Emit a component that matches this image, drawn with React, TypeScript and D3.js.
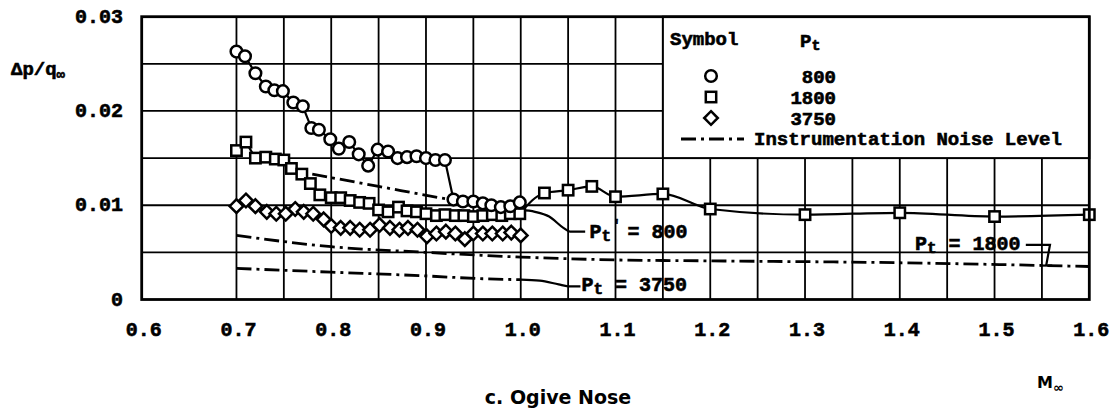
import React from 'react';
import * as d3 from 'd3';

const W = 1115;
const H = 411;

// axis ticks
const machTicks = [0.6, 0.7, 0.8, 0.9, 1.0, 1.1, 1.2, 1.3, 1.4, 1.5, 1.6];
const machTickLabels = ['0.6', '0.7', '0.8', '0.9', '1.0', '1.1', '1.2', '1.3', '1.4', '1.5', '1.6'];
const dpTicks = [0, 0.01, 0.02, 0.03];
const dpTickLabels = ['0', '0.01', '0.02', '0.03'];
const gridMach = [0.7, 0.75, 0.8, 0.85, 0.9, 0.95, 1.0, 1.05, 1.1, 1.15, 1.2, 1.25, 1.3, 1.35, 1.4, 1.45, 1.5, 1.55];
const gridDp = [0.005, 0.01, 0.015, 0.02, 0.025];

// Pt = 800 (circles)
const mach800 = [0.700, 0.709, 0.720, 0.731, 0.740, 0.749, 0.760, 0.770, 0.779, 0.787, 0.799, 0.808, 0.819, 0.829, 0.839, 0.849, 0.860, 0.870, 0.880, 0.890, 0.900, 0.910, 0.920, 0.929, 0.939, 0.950, 0.960, 0.969, 0.979, 0.989, 0.999];
const dp800 = [0.0263, 0.0258, 0.0240, 0.0226, 0.0222, 0.0221, 0.0209, 0.0205, 0.0182, 0.0180, 0.0170, 0.0160, 0.0167, 0.0154, 0.0142, 0.0159, 0.0157, 0.0150, 0.0151, 0.0152, 0.0150, 0.0148, 0.0148, 0.0106, 0.0104, 0.0104, 0.0102, 0.0100, 0.0098, 0.0099, 0.0103];

// Pt = 1800 (squares)
const mach1800 = [0.700, 0.710, 0.720, 0.731, 0.741, 0.750, 0.758, 0.769, 0.778, 0.788, 0.800, 0.810, 0.820, 0.830, 0.840, 0.850, 0.860, 0.871, 0.880, 0.890, 0.900, 0.911, 0.920, 0.931, 0.940, 0.950, 0.960, 0.970, 0.980, 0.989, 0.999, 1.025, 1.050, 1.075, 1.100, 1.150, 1.200, 1.300, 1.400, 1.500, 1.600];
const dp1800 = [0.0158, 0.0167, 0.0150, 0.0151, 0.0149, 0.0148, 0.0139, 0.0133, 0.0123, 0.0111, 0.0108, 0.0108, 0.0105, 0.0103, 0.0102, 0.0095, 0.0093, 0.0098, 0.0094, 0.0093, 0.0091, 0.0089, 0.0090, 0.0089, 0.0089, 0.0088, 0.0089, 0.0090, 0.0089, 0.0091, 0.0091, 0.0113, 0.0116, 0.0120, 0.0109, 0.0112, 0.0096, 0.0090, 0.0092, 0.0088, 0.0090];

// Pt = 3750 (diamonds)
const mach3750 = [0.700, 0.710, 0.720, 0.732, 0.742, 0.752, 0.762, 0.771, 0.781, 0.792, 0.800, 0.810, 0.820, 0.830, 0.841, 0.851, 0.862, 0.872, 0.881, 0.891, 0.901, 0.911, 0.921, 0.931, 0.941, 0.950, 0.960, 0.970, 0.981, 0.990, 1.000];
const dp3750 = [0.0099, 0.0105, 0.0099, 0.0093, 0.0091, 0.0091, 0.0096, 0.0093, 0.0091, 0.0085, 0.0078, 0.0076, 0.0076, 0.0074, 0.0074, 0.0079, 0.0076, 0.0074, 0.0076, 0.0074, 0.0067, 0.0070, 0.0072, 0.0070, 0.0064, 0.0070, 0.0070, 0.0070, 0.0070, 0.0071, 0.0068];

// Instrumentation noise levels
const noiseMach800 = [0.78, 0.85, 0.92, 0.97, 1.0];
const noiseDp800 = [0.0133, 0.0120, 0.0107, 0.0099, 0.0095];
const noiseMach1800 = [0.7, 0.8, 0.9, 1.0, 1.1, 1.2, 1.4, 1.6];
const noiseDp1800 = [0.0068, 0.0056, 0.0050, 0.0045, 0.0042, 0.0041, 0.0039, 0.0035];
const noiseMach3750 = [0.7, 0.8, 0.9, 0.96, 1.0];
const noiseDp3750 = [0.0033, 0.0029, 0.0025, 0.0022, 0.0021];

// leader lines from the noise curves to their labels
const leadMach800 = [1.0, 1.015, 1.03, 1.045, 1.052, 1.068];
const leadDp800 = [0.0095, 0.0093, 0.0088, 0.0076, 0.0072, 0.0072];
const leadMach3750 = [1.0, 1.02, 1.04, 1.05, 1.063];
const leadDp3750 = [0.0021, 0.0020, 0.0016, 0.0014, 0.0014];
const leadMach1800 = [1.533, 1.5585, 1.5545];
const leadDp1800 = [0.0058, 0.0058, 0.0036];

const legendValues = ['800', '1800', '3750'];

const x = d3.scaleLinear().domain([0.6, 1.6]).range([141.7, 1089.3]);
const y = d3.scaleLinear().domain([0, 0.03]).range([299.5, 16.7]);

const zip = (a: number[], b: number[]) => a.map((m, i) => [m, b[i]] as [number, number]);
const lin = d3.line<[number, number]>().x(d => x(d[0])).y(d => y(d[1]));
const smooth = d3.line<[number, number]>().x(d => x(d[0])).y(d => y(d[1])).curve(d3.curveMonotoneX);

const MONO = "'Liberation Mono', 'DejaVu Sans Mono', monospace";
const DASH = '15,5,3,5';

function Marker({ kind, cx, cy }: { kind: string; cx: number; cy: number }) {
  if (kind === 'circle') return <circle cx={cx} cy={cy} r={5.8} fill="#fff" stroke="#000" strokeWidth={2.5} />;
  if (kind === 'square') return <rect x={cx - 5.2} y={cy - 5.2} width={10.4} height={10.4} fill="#fff" stroke="#000" strokeWidth={2.5} />;
  return <path d={`M${cx},${cy - 6.8}L${cx + 6.8},${cy}L${cx},${cy + 6.8}L${cx - 6.8},${cy}Z`} fill="#fff" stroke="#000" strokeWidth={2.5} />;
}

export default function App() {
  const x0 = x(0.6), x1 = x(1.6), yTop = y(0.03), yBot = y(0);
  const s800 = zip(mach800, dp800);
  const s1800 = zip(mach1800, dp1800);
  const s3750 = zip(mach3750, dp3750);
  const sub1800 = s1800.filter(d => d[0] <= 1.0);
  const sup1800 = s1800.filter(d => d[0] >= 0.999);
  const legX = x(1.15), legY = y(0.03), legW = x(1.6) - x(1.15), legH = y(0.015) - y(0.03);
  const symX = 711;
  const legRows = [76, 97, 118];
  const kinds = ['circle', 'square', 'diamond'];
  const heavy = { stroke: '#000', strokeWidth: 0.6 };
  const a800x = x(1.0725), a800y = y(0.0065);
  return (
    <svg width={W} height={H} style={{ position: 'absolute', left: 0, top: 0, background: '#fff' }}>
      <rect x={0} y={0} width={W} height={H} fill="#fff" />
      {/* grid */}
      <g stroke="#000" strokeWidth={1.8}>
        {gridMach.map(m => <line key={'gx' + m} x1={x(m)} x2={x(m)} y1={yTop} y2={yBot} />)}
        {gridDp.map(v => <line key={'gy' + v} x1={x0} x2={x1} y1={y(v)} y2={y(v)} />)}
      </g>
      {/* legend box */}
      <rect x={legX} y={legY} width={legW} height={legH} fill="#fff" stroke="#000" strokeWidth={2} />
      {/* noise lines */}
      <g fill="none" stroke="#000" strokeWidth={2.8} strokeDasharray={DASH}>
        <path d={smooth(zip(noiseMach800, noiseDp800)) || ''} />
        <path d={smooth(zip(noiseMach1800, noiseDp1800)) || ''} />
        <path d={smooth(zip(noiseMach3750, noiseDp3750)) || ''} />
      </g>
      {/* leaders */}
      <g fill="none" stroke="#000" strokeWidth={2.2}>
        <path d={smooth(zip(leadMach800, leadDp800)) || ''} />
        <path d={smooth(zip(leadMach3750, leadDp3750)) || ''} />
        <path d={lin(zip(leadMach1800, leadDp1800)) || ''} />
        <line x1={x(1.5545) - 6} x2={x(1.5545) + 6} y1={y(0.0036)} y2={y(0.0036)} />
      </g>
      {/* data lines */}
      <g fill="none" stroke="#000" strokeWidth={2.2}>
        <path d={lin(s800) || ''} />
        <path d={lin(sub1800) || ''} />
        <path d={smooth(sup1800) || ''} />
        <path d={lin(s3750) || ''} />
      </g>
      {/* markers */}
      <g>
        {s3750.map((d, i) => <Marker key={'d' + i} kind="diamond" cx={x(d[0])} cy={y(d[1])} />)}
        {s1800.map((d, i) => <Marker key={'s' + i} kind="square" cx={x(d[0])} cy={y(d[1])} />)}
        {s800.map((d, i) => <Marker key={'c' + i} kind="circle" cx={x(d[0])} cy={y(d[1])} />)}
      </g>
      {/* frame */}
      <rect x={x0} y={yTop} width={x1 - x0} height={yBot - yTop} fill="none" stroke="#000" strokeWidth={2.8} />
      {/* tick labels */}
      <g fontFamily={MONO} fontWeight="bold" fontSize={20} fill="#000" {...heavy}>
        {dpTicks.map((v, i) => (
          <text key={'yl' + i} x={123} y={y(v) + 6} textAnchor="end">{dpTickLabels[i]}</text>
        ))}
        {machTicks.map((m, i) => (
          <text key={'xl' + i} x={x(m) + 2} y={336} textAnchor="middle">{machTickLabels[i]}</text>
        ))}
      </g>
      {/* axis titles */}
      <text x={11} y={75} fontFamily={MONO} fontWeight="bold" fontSize={19} fill="#000" {...heavy}>
        Δp/q<tspan fontSize={14} dy={4}>∞</tspan>
      </text>
      <text x={1037} y={388} fontFamily="'DejaVu Sans', sans-serif" fontWeight="bold" fontSize={16} fill="#000">
        M<tspan fontSize={13} dy={4}>∞</tspan>
      </text>
      <text x={558} y={404} textAnchor="middle" fontFamily="'DejaVu Sans', sans-serif" fontWeight="bold" fontSize={19} fill="#000">
        c. Ogive Nose
      </text>
      {/* legend content */}
      <g fontFamily={MONO} fontWeight="bold" fontSize={19} fill="#000" {...heavy}>
        <text x={670} y={45}>Symbol</text>
        <text x={800} y={47}>P<tspan fontSize={15} dy={3}>t</tspan></text>
        {legendValues.map((v, i) => (
          <text key={'lv' + i} x={836} y={legRows[i] + 7} textAnchor="end">{v}</text>
        ))}
        <text x={754} y={145}>Instrumentation Noise Level</text>
      </g>
      {kinds.map((k, i) => <Marker key={'lm' + i} kind={k} cx={symX} cy={legRows[i]} />)}
      <line x1={681} x2={744} y1={139} y2={139} stroke="#000" strokeWidth={2.8} strokeDasharray="15,5,3,5" />
      {/* annotations */}
      <g fontFamily={MONO} fontWeight="bold" fontSize={20} fill="#000" {...heavy}>
        <text x={a800x} y={a800y}>P<tspan fontSize={16} dy={3}>t</tspan></text>
        <text x={a800x + 23} y={a800y - 8} fontSize={14}>′</text>
        <text x={a800x + 38} y={a800y}>= 800</text>
        <text x={x(1.064)} y={y(0.0009)}>P<tspan fontSize={16} dy={3}>t</tspan><tspan dy={-3}> = 3750</tspan></text>
        <text x={x(1.416)} y={y(0.0052)}>P<tspan fontSize={16} dy={3}>t</tspan><tspan dy={-3}> = 1800</tspan></text>
      </g>
    </svg>
  );
}
